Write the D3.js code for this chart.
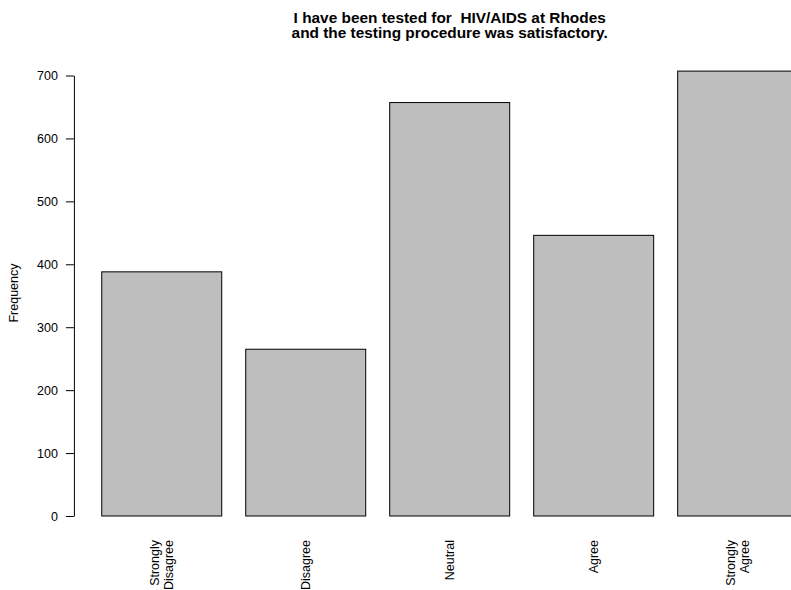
<!DOCTYPE html>
<html>
<head>
<meta charset="utf-8">
<script src="https://cdn.jsdelivr.net/npm/d3@7/dist/d3.min.js"></script>
<style>
  html, body { margin: 0; padding: 0; background: #fff; }
  svg { display: block; font-family: "Liberation Sans", Arial, Helvetica, sans-serif; }
</style>
</head>
<body>
<svg id="chart" width="791" height="590"></svg>
<script>
const categories = ["Strongly\nDisagree", "Disagree", "Neutral", "Agree", "Strongly\nAgree"];
const values = [388, 265, 657, 446, 707];
const yTicks = [0, 100, 200, 300, 400, 500, 600, 700];
const titleLines = ["I have been tested for  HIV/AIDS at Rhodes", "and the testing procedure was satisfactory."];
const yLabel = "Frequency";

const svg = d3.select("#chart");
const W = 791, H = 590;

// R-style barplot geometry: bar width 1, space 0.2
const space = 0.2, barW = 1;
const lefts = categories.map((_, i) => space + i * (barW + space));
const xMin = lefts[0], xMax = lefts[lefts.length - 1] + barW;
const xPad = (xMax - xMin) * 0.04;
const x = d3.scaleLinear().domain([xMin - xPad, xMax + xPad]).range([73.9, 825.5]);
const y = d3.scaleLinear().domain([0, 700]).range([516, 75.5]);

// bars
svg.append("g").selectAll("rect").data(values).join("rect")
  .attr("x", (d, i) => x(lefts[i]))
  .attr("y", d => y(d))
  .attr("width", (d, i) => x(lefts[i] + barW) - x(lefts[i]))
  .attr("height", d => y(0) - y(d))
  .attr("fill", "#bebebe")
  .attr("stroke", "#000")
  .attr("stroke-width", 1);

// y axis
const yAxis = d3.axisLeft(y).tickValues(yTicks).tickSize(8).tickSizeOuter(0).tickPadding(8).tickFormat(d3.format("d"));
const ga = svg.append("g").attr("transform", "translate(73.9,0)").call(yAxis);
ga.select(".domain").attr("stroke", "#000");
ga.selectAll(".tick line").attr("stroke", "#000");
ga.selectAll(".tick text").attr("fill", "#000").style("font-size", "12.5px").style("font-family", "'Liberation Sans', Arial, sans-serif");

// category labels (rotated, las = 2)
const lh = 14.4;
categories.forEach((c, i) => {
  const cx = x(lefts[i] + barW / 2);
  const lines = c.split("\n");
  const n = lines.length;
  const g = svg.append("g").attr("transform", `translate(${cx},540) rotate(-90)`);
  lines.forEach((ln, j) => {
    const off = (j - (n - 1) / 2) * lh + 4.4;
    g.append("text")
      .attr("x", 0).attr("y", off)
      .attr("text-anchor", "end")
      .style("font-size", "12.5px")
      .attr("fill", "#000")
      .text(ln);
  });
});

// y label
svg.append("text")
  .attr("transform", "translate(18,293) rotate(-90)")
  .attr("text-anchor", "middle")
  .style("font-size", "12.5px")
  .attr("fill", "#000")
  .text(yLabel);

// title
const tx = (73.9 + 825.5) / 2;
titleLines.forEach((t, i) => {
  svg.append("text")
    .attr("x", tx).attr("y", 22.7 + i * 15.4)
    .attr("text-anchor", "middle")
    .style("font-size", "15.4px")
    .style("font-weight", "bold")
    .style("white-space", "pre")
    .attr("xml:space", "preserve")
    .attr("fill", "#000")
    .text(t);
});
</script>
</body>
</html>
